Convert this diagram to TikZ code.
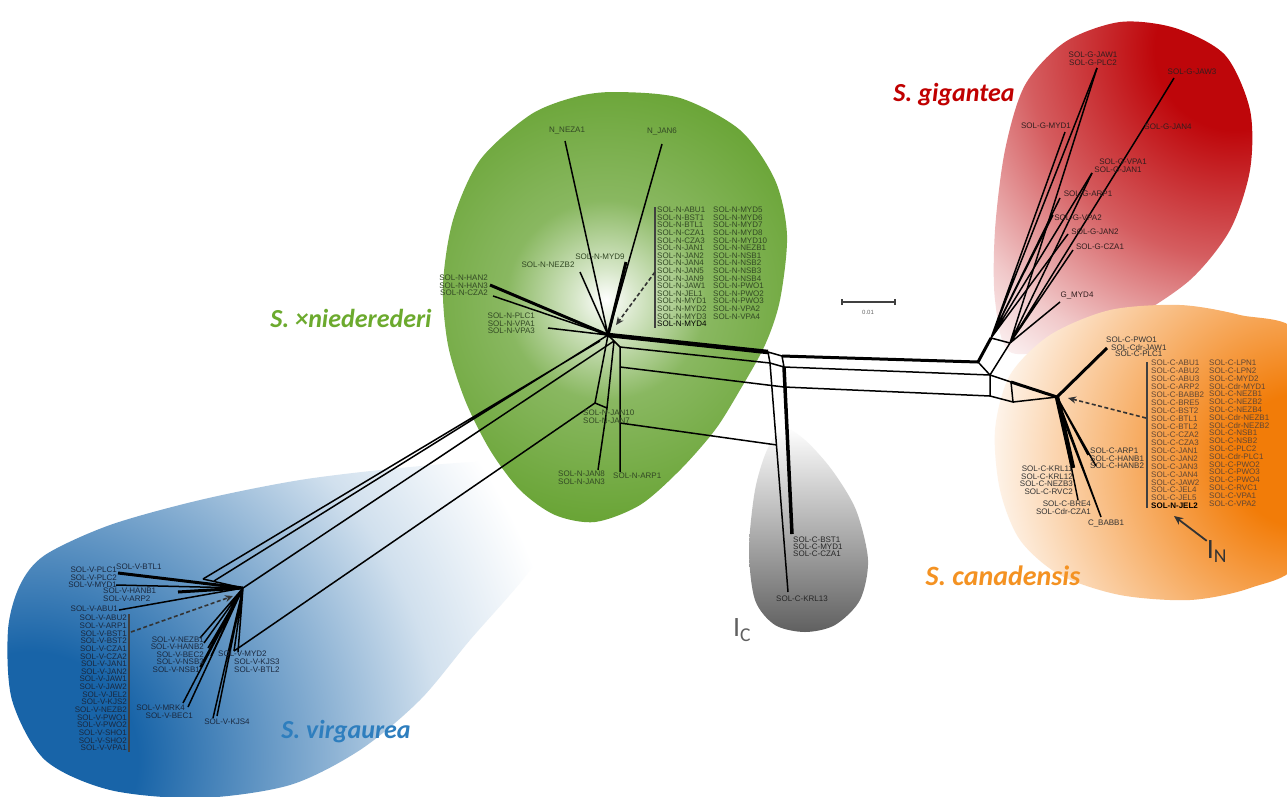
\documentclass[tikz,border=0pt]{standalone}
\usepackage{fontspec}
\setmainfont{Liberation Sans}
\newfontfamily\spfont{Carlito}
\usetikzlibrary{arrows.meta}

\definecolor{ngreen}{RGB}{98,160,44}
\definecolor{vblue}{RGB}{24,100,168}
\definecolor{gred}{RGB}{190,6,10}
\definecolor{corange}{RGB}{242,124,8}
\definecolor{icgray}{RGB}{96,96,96}
\definecolor{ntext}{RGB}{50,72,36}
\definecolor{vtext}{RGB}{26,40,62}
\definecolor{gtext}{RGB}{50,30,30}
\definecolor{ctext}{RGB}{96,70,52}
\definecolor{spgreen}{RGB}{108,170,46}
\definecolor{spred}{RGB}{192,0,0}
\definecolor{sporange}{RGB}{244,146,34}
\definecolor{spblue}{RGB}{46,126,190}
\colorlet{nmidA}{ngreen!25!white}
\colorlet{nmidB}{ngreen!75!white}
\colorlet{vmidA}{vblue!55!white}
\colorlet{vmidB}{vblue!20!white}
\colorlet{gmidA}{gred!65!white}
\colorlet{gmidB}{gred!22!white}
\colorlet{cmidA}{corange!50!white}

\pgfdeclareradialshading{nglow}{\pgfpoint{0bp}{0bp}}{color(0bp)=(white); color(3bp)=(nmidA); color(10bp)=(nmidB); color(25bp)=(ngreen); color(50bp)=(ngreen)}
\pgfdeclareradialshading{vglow}{\pgfpoint{0bp}{0bp}}{color(0bp)=(vblue); color(5bp)=(vblue); color(13bp)=(vmidA); color(19bp)=(vmidB); color(25bp)=(white); color(50bp)=(white)}
\pgfdeclareradialshading{gglow}{\pgfpoint{0bp}{0bp}}{color(0bp)=(gred); color(5bp)=(gred); color(13bp)=(gmidA); color(20bp)=(gmidB); color(25bp)=(white); color(50bp)=(white)}
\pgfdeclareradialshading{cglow}{\pgfpoint{0bp}{0bp}}{color(0bp)=(corange); color(5bp)=(corange); color(15bp)=(cmidA); color(25bp)=(white); color(50bp)=(white)}

\newcommand\taxsize{\fontsize{8}{7.6}\selectfont}
\newcommand\spsize{\spfont\bfseries\itshape\fontsize{26}{28}\selectfont}

\begin{document}
\begin{tikzpicture}[x=1pt,y=-1pt,
    every node/.style={inner sep=0pt},
    taxon/.style={font=\taxsize, text=black!85},
    taxlist/.style={taxon, align=left, anchor=north west},
    species/.style={font=\spsize},
    branch/.style={line width=1.5pt},
    thickbranch/.style={line width=3pt},
    pointer/.style={line width=1.6pt, black!80, dash pattern=on 4pt off 2.5pt, -{Stealth[length=8pt,width=7pt]}},
    bar/.style={line width=1.8pt, black!75}
  ]
  \useasboundingbox (0,0) rectangle (1287,796);
  \fill[white] (0,0) rectangle (1287,796);

  % species areas
  \begin{scope}
    \clip plot[smooth cycle] coordinates {(45,555) (110,525) (200,500) (300,480) (400,468) (490,462) (550,475) (560,510) (530,570) (470,640) (420,700) (360,750) (290,785) (200,798) (110,790) (45,760) (12,700) (8,630) (20,585)};
    \shade[shading=vglow] (-510,220) rectangle (570,1300);
  \end{scope}
  \begin{scope}
    \clip plot[smooth cycle] coordinates {(615,92) (680,98) (740,130) (775,180) (787,235) (780,300) (765,345) (740,390) (715,430) (680,470) (640,505) (595,522) (555,515) (520,490) (490,450) (465,400) (448,345) (443,285) (453,220) (480,160) (530,115) (575,97)};
    \shade[shading=nglow] (356,50) rectangle (856,550);
  \end{scope}
  \begin{scope}
    \clip plot[smooth cycle] coordinates {(1120,22) (1175,28) (1225,55) (1250,110) (1250,170) (1230,230) (1190,280) (1130,320) (1070,345) (1010,352) (995,300) (995,230) (1005,150) (1025,85) (1065,42)};
    \shade[shading=gglow] (835,-350) rectangle (1635,450);
  \end{scope}
  \begin{scope}
    \clip plot[smooth cycle] coordinates {(1180,305) (1240,315) (1300,335) (1310,450) (1300,560) (1250,588) (1190,600) (1120,595) (1060,575) (1020,540) (1000,490) (995,430) (1010,375) (1050,335) (1110,310)};
    \shade[shading=cglow] (970,130) rectangle (1630,790);
  \end{scope}
  \shade[top color=white, bottom color=icgray] plot[smooth cycle] coordinates {(783,428) (805,440) (832,470) (856,510) (868,560) (860,600) (835,625) (805,632) (775,625) (755,600) (749,550) (755,490) (767,450)};

  % network points
  \coordinate (nhub) at (608,335);
  \coordinate (nA) at (600,341);
  \coordinate (nB) at (614,341);
  \coordinate (nNEZA1) at (565,141);
  \coordinate (nJAN6) at (662,144);
  \coordinate (nMYD9) at (626,262);
  \coordinate (nNEZB2) at (580,272);
  \coordinate (nHAN) at (490,285);
  \coordinate (nCZA2) at (493,296);
  \coordinate (nPLC) at (548,328);
  \coordinate (nR) at (620,347);
  \coordinate (nS) at (620,367);
  \coordinate (nL) at (620,423);
  \coordinate (nARP1) at (620,472);
  \coordinate (nJ) at (595,403);
  \coordinate (nK) at (607,408);
  \coordinate (nJAN8) at (598,470);
  \coordinate (nbar) at (655,272);
  \coordinate (ntip) at (616,325);

  \coordinate (link1) at (768,352);
  \coordinate (link2) at (782,356);
  \coordinate (link3) at (784,367);
  \coordinate (link4) at (770,363);
  \coordinate (lbot) at (784,387);
  \coordinate (gyBST) at (792,534);
  \coordinate (gyKRL) at (788,592);
  \coordinate (gyL) at (777,445);

  \coordinate (gA) at (978,362);
  \coordinate (gB) at (990,375);
  \coordinate (gC) at (990,396);
  \coordinate (gD) at (1011,382);
  \coordinate (gE) at (1013,402);
  \coordinate (gR1) at (991,338);
  \coordinate (gR2) at (1010,343);
  \coordinate (gJAW1) at (1097,68);
  \coordinate (gJAW3) at (1174,78);
  \coordinate (gJAN4) at (1144,127);
  \coordinate (gMYD1) at (1065,132);
  \coordinate (gVPA1) at (1092,173);
  \coordinate (gARP1) at (1060,198);
  \coordinate (gVPA2) at (1053,215);
  \coordinate (gJAN2) at (1068,234);
  \coordinate (gCZA1) at (1073,250);
  \coordinate (gMYD4) at (1060,302);

  \coordinate (chub) at (1057,397);
  \coordinate (cM) at (1060,410);
  \coordinate (cPWO) at (1107,348);
  \coordinate (cKRL) at (1073,468);
  \coordinate (cARP1) at (1088,455);
  \coordinate (cHANB) at (1096,466);
  \coordinate (cBRE4) at (1078,500);
  \coordinate (cBABB1) at (1101,517);
  \coordinate (cbar) at (1146,418);
  \coordinate (ctip) at (1068,398);

  \coordinate (vhub) at (243,588);
  \coordinate (vBTL1) at (203,579);
  \coordinate (vX) at (214,581);
  \coordinate (vPLC) at (118,573);
  \coordinate (vMYD1) at (116,585);
  \coordinate (vHANB) at (178,592);
  \coordinate (vABU1) at (119,610);
  \coordinate (vNEZB1) at (200,638);
  \coordinate (vHANB2) at (204,643);
  \coordinate (vBEC2) at (208,648);
  \coordinate (vNSB3) at (211,656);
  \coordinate (vNSB1) at (200,667);
  \coordinate (vMRK4) at (183,703);
  \coordinate (vBEC1) at (188,707);
  \coordinate (vKJS4) at (213,718);
  \coordinate (vKJS4b) at (217,716);
  \coordinate (vMYD2) at (234,651);
  \coordinate (vKJS3) at (238,652);
  \coordinate (vbar) at (131,632);
  \coordinate (vtip) at (233,596);

  % N branches
  \draw[branch] (nhub) -- (nNEZA1) (nhub) -- (nJAN6) (nhub) -- (nNEZB2) (nhub) -- (nCZA2) (nhub) -- (nPLC);
  \draw[thickbranch] (nhub) -- (nMYD9) (nhub) -- (nHAN);
  \draw[branch] (nhub) -- (nJ) -- (nK) (nB) -- (nK) -- (nJAN8) (nhub) -- (nR) -- (nARP1);
  \draw[branch] (nS) -- (lbot) (nL) -- (gyL);

  % central splits
  \draw[line width=4.5pt] (nhub) -- (link1);
  \draw[branch] (nR) -- (link4);
  \draw[branch] (link1) -- (link2) -- (link3) -- (link4) -- cycle;
  \draw[thickbranch] (link2) -- (gA);
  \draw[branch] (link3) -- (gB) (lbot) -- (gC) (link3) -- (lbot);
  \draw[line width=3.5pt] (link3) -- (gyBST);
  \draw[branch] (link4) -- (gyKRL);
  \draw[branch] (gA) -- (gB) -- (gC) -- (gE) -- (gD) -- (gB) (gE) -- (chub);
  \draw[thickbranch] (gD) -- (chub);

  % G branches
  \draw[thickbranch] (gA) -- (gR1);
  \draw[branch] (gB) -- (gR2) (gR1) -- (gR2);
  \draw[branch] (gR1) -- (gJAW1) (gR1) -- (gMYD1) (gR1) -- (gARP1) (gR1) -- (gVPA2) (gR1) -- (gJAN2) (gR1) -- (gVPA1);
  \draw[branch] (gR2) -- (gJAW1) (gR2) -- (gJAN4) -- (gJAW3) (gR2) -- (gVPA1) (gR2) -- (gCZA1) (gR2) -- (gMYD4);

  % C branches
  \draw[thickbranch] (chub) -- (cPWO);
  \draw[line width=4.5pt] (chub) -- (cKRL);
  \draw[branch] (chub) -- (cARP1) (chub) -- (cHANB) (chub) -- (cBRE4) (chub) -- (cBABB1) (cM) -- (cBABB1);

  % V branches
  \draw[branch] (vBTL1) -- (vhub) (vhub) -- (vMYD1) (vhub) -- (vABU1);
  \draw[thickbranch] (vhub) -- (vPLC) (vhub) -- (vHANB);
  \draw[branch] (vhub) -- (vNEZB1) (vhub) -- (vHANB2) (vhub) -- (vBEC2) (vhub) -- (vNSB3) (vhub) -- (vNSB1) (vhub) -- (vMRK4) (vhub) -- (vBEC1) (vhub) -- (vKJS4) (vhub) -- (vKJS4b) (vhub) -- (vMYD2) (vhub) -- (vKJS3);
  \draw[branch] (vBTL1) -- (nA) (vX) -- (nhub) (vhub) -- (nB) (vMYD2) -- (nJ);

  % collapsed groups
  \draw[bar] (655,207) -- (655,328);
  \draw[bar] (1147,362) -- (1147,508);
  \draw[bar] (129,614) -- (129,752);
  \draw[pointer] (nbar) -- (ntip);
  \draw[pointer] (cbar) -- (ctip);
  \draw[pointer] (vbar) -- (vtip);

  % N labels
  \node[taxon, text=ntext] (tNEZA1) at (567,131) {N\_NEZA1};
  \node[taxon, text=ntext] (tJAN6) at (662,131) {N\_JAN6};
  \node[taxon, text=ntext] (tMYD9) at (600,257) {SOL-N-MYD9};
  \node[taxon, text=ntext] (tNEZB2) at (548,265) {SOL-N-NEZB2};
  \node[taxon, text=ntext, align=right, anchor=north east] (tHAN) at (488,275) {SOL-N-HAN2\\SOL-N-HAN3\\SOL-N-CZA2};
  \node[taxon, text=ntext, align=right, anchor=north east] (tPLC) at (535,313) {SOL-N-PLC1\\SOL-N-VPA1\\SOL-N-VPA3};
  \node[taxlist, text=ntext] (tJAN10) at (583,410) {SOL-N-JAN10\\SOL-N-JAN7};
  \node[taxlist, text=ntext] (tJAN8) at (558,471) {SOL-N-JAN8\\SOL-N-JAN3};
  \node[taxon, text=ntext, anchor=west] (tARP1) at (613,476) {SOL-N-ARP1};
  \node[taxlist, text=ntext] (nlist1) at (657,207) {SOL-N-ABU1\\SOL-N-BST1\\SOL-N-BTL1\\SOL-N-CZA1\\SOL-N-CZA3\\SOL-N-JAN1\\SOL-N-JAN2\\SOL-N-JAN4\\SOL-N-JAN5\\SOL-N-JAN9\\SOL-N-JAW1\\SOL-N-JEL1\\SOL-N-MYD1\\SOL-N-MYD2\\SOL-N-MYD3\\\textcolor{black}{SOL-N-MYD4}};
  \node[taxlist, text=ntext] (nlist2) at (713,207) {SOL-N-MYD5\\SOL-N-MYD6\\SOL-N-MYD7\\SOL-N-MYD8\\SOL-N-MYD10\\SOL-N-NEZB1\\SOL-N-NSB1\\SOL-N-NSB2\\SOL-N-NSB3\\SOL-N-NSB4\\SOL-N-PWO1\\SOL-N-PWO2\\SOL-N-PWO3\\SOL-N-VPA2\\SOL-N-VPA4};

  % G labels
  \node[taxon, text=gtext, align=center] (tJAW1) at (1093,59) {SOL-G-JAW1\\SOL-G-PLC2};
  \node[taxon, text=gtext] (tJAW3) at (1192,72) {SOL-G-JAW3};
  \node[taxon, text=gtext] (tGMYD1) at (1046,126) {SOL-G-MYD1};
  \node[taxon, text=gtext] (tJAN4) at (1168,127) {SOL-G-JAN4};
  \node[taxon, text=gtext] (tVPA1) at (1123,162) {SOL-G-VPA1};
  \node[taxon, text=gtext] (tGJAN1) at (1118,170) {SOL-G-JAN1};
  \node[taxon, text=gtext] (tGARP1) at (1088,194) {SOL-G-ARP1};
  \node[taxon, text=gtext] (tVPA2) at (1078,218) {SOL-G-VPA2};
  \node[taxon, text=gtext] (tJAN2) at (1095,232) {SOL-G-JAN2};
  \node[taxon, text=gtext] (tCZA1) at (1100,247) {SOL-G-CZA1};
  \node[taxon, text=gtext] (tMYD4) at (1077,295) {G\_MYD4};

  % C labels
  \node[taxlist, text=black!80] (tPWO1) at (1106,337) {SOL-C-PWO1};
  \node[taxlist, text=black!80] (tCdrJAW1) at (1111,344) {SOL-Cdr-JAW1};
  \node[taxlist, text=black!80] (tCPLC1) at (1115,351) {SOL-C-PLC1};
  \node[taxlist, text=ctext, font=\fontsize{8}{7.95}\selectfont] (clist1) at (1151,360) {SOL-C-ABU1\\SOL-C-ABU2\\SOL-C-ABU3\\SOL-C-ARP2\\SOL-C-BABB2\\SOL-C-BRE5\\SOL-C-BST2\\SOL-C-BTL1\\SOL-C-BTL2\\SOL-C-CZA2\\SOL-C-CZA3\\SOL-C-JAN1\\SOL-C-JAN2\\SOL-C-JAN3\\SOL-C-JAN4\\SOL-C-JAW2\\SOL-C-JEL4\\SOL-C-JEL5\\\textcolor{black}{\bfseries SOL-N-JEL2}};
  \node[taxlist, text=ctext, font=\fontsize{8}{7.8}\selectfont] (clist2) at (1209,360) {SOL-C-LPN1\\SOL-C-LPN2\\SOL-C-MYD2\\SOL-Cdr-MYD1\\SOL-C-NEZB1\\SOL-C-NEZB2\\SOL-C-NEZB4\\SOL-Cdr-NEZB1\\SOL-Cdr-NEZB2\\SOL-C-NSB1\\SOL-C-NSB2\\SOL-C-PLC2\\SOL-Cdr-PLC1\\SOL-C-PWO2\\SOL-C-PWO3\\SOL-C-PWO4\\SOL-C-RVC1\\SOL-C-VPA1\\SOL-C-VPA2};
  \node[taxlist, text=black!80] (tCARP1) at (1090,448) {SOL-C-ARP1\\SOL-C-HANB1\\SOL-C-HANB2};
  \node[taxon, text=black!80, align=right, anchor=north east] (tKRL) at (1073,466) {SOL-C-KRL11\\SOL-C-KRL12\\SOL-C-NEZB3\\SOL-C-RVC2};
  \node[taxon, text=black!80, align=right, anchor=north east] (tBRE4) at (1091,501) {SOL-C-BRE4\\SOL-Cdr-CZA1};
  \node[taxon, text=black!80] (tBABB1) at (1106,523) {C\_BABB1};

  % hybrid group labels
  \node[taxlist, text=black!85, font=\fontsize{8}{7}\selectfont] (tBST1) at (793,537) {SOL-C-BST1\\SOL-C-MYD1\\SOL-C-CZA1};
  \node[taxon, text=black!85] (tKRL13) at (802,599) {SOL-C-KRL13};

  % V labels
  \node[taxon, text=vtext, anchor=west] (tBTL1) at (116,567) {SOL-V-BTL1};
  \node[taxon, text=vtext, align=right, anchor=north east] (tVPLC) at (117,567) {SOL-V-PLC1\\SOL-V-PLC2\\SOL-V-MYD1};
  \node[taxlist, text=vtext] (tHANB1) at (103,588) {SOL-V-HANB1\\SOL-V-ARP2};
  \node[taxon, text=vtext, anchor=east] (tABU1) at (118,609) {SOL-V-ABU1};
  \node[taxon, text=vtext, align=right, anchor=north east, font=\fontsize{8}{7.65}\selectfont] (vlist) at (127,615) {SOL-V-ABU2\\SOL-V-ARP1\\SOL-V-BST1\\SOL-V-BST2\\SOL-V-CZA1\\SOL-V-CZA2\\SOL-V-JAN1\\SOL-V-JAN2\\SOL-V-JAW1\\SOL-V-JAW2\\SOL-V-JEL2\\SOL-V-KJS2\\SOL-V-NEZB2\\SOL-V-PWO1\\SOL-V-PWO2\\SOL-V-SHO1\\SOL-V-SHO2\\SOL-V-VPA1};
  \node[taxon, text=vtext, align=right, anchor=north east, font=\fontsize{8}{7.2}\selectfont] (tNEZB1) at (204,637) {SOL-V-NEZB1\\SOL-V-HANB2\\SOL-V-BEC2\\SOL-V-NSB3};
  \node[taxon, text=vtext, anchor=east] (tNSB1) at (200,670) {SOL-V-NSB1};
  \node[taxon, text=vtext, anchor=west] (tMYD2) at (218,654) {SOL-V-MYD2};
  \node[taxlist, text=vtext] (tKJS3) at (234,659) {SOL-V-KJS3\\SOL-V-BTL2};
  \node[taxon, text=vtext, anchor=east] (tMRK4) at (185,708) {SOL-V-MRK4};
  \node[taxon, text=vtext, anchor=east] (tBEC1) at (193,716) {SOL-V-BEC1};
  \node[taxon, text=vtext] (tKJS4) at (227,722) {SOL-V-KJS4};

  % scale
  \coordinate (sbl) at (842,302);
  \coordinate (sbr) at (895,302);
  \draw[line width=1.3pt, black!75] (sbl) -- (sbr);
  \draw[line width=1.3pt, black!75] ([yshift=-3pt]sbl) -- ([yshift=3pt]sbl) ([yshift=-3pt]sbr) -- ([yshift=3pt]sbr);
  \node[font=\fontsize{6}{6}\selectfont, text=black!60] (sblabel) at (868,312) {0.01};

  % species names
  \node[species, text=spgreen] (spN) at (351,318) {S. ×niederederi};
  \node[species, text=spred] (spG) at (954,95) {S. gigantea};
  \node[species, text=sporange, font=\spfont\bfseries\itshape\fontsize{28}{30}\selectfont] (spC) at (1003,576) {S. canadensis};
  \node[species, text=spblue] (spV) at (346,732) {S. virgaurea};

  % hybrid markers
  \node[text=icgray, font=\spfont\fontsize{28}{28}\selectfont] (ic) at (742,630) {I\textsubscript{C}};
  \node[text=black!80, font=\spfont\fontsize{28}{28}\selectfont] (in) at (1217,552) {I\textsubscript{N}};
  \coordinate (inhead) at (1174,516);
  \draw[line width=1.8pt, black!80, -{Stealth[length=9pt,width=8pt]}] (in.north west) -- (inhead);
\end{tikzpicture}
\end{document}
